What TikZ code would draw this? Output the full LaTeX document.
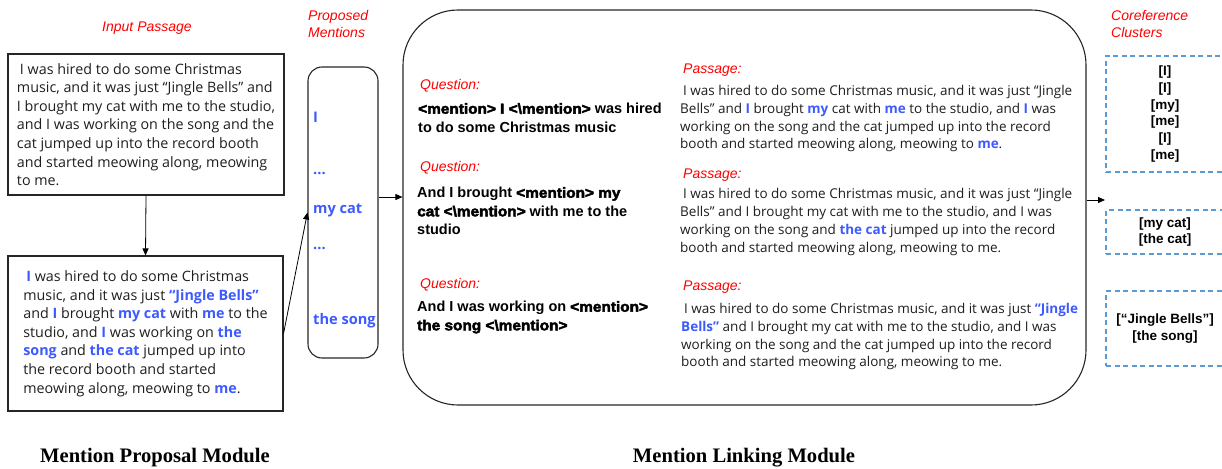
\documentclass[tikz,border=0pt]{standalone}
\usepackage{fontspec}
\setmainfont{Open Sans}
\newfontfamily\arial{Liberation Sans}
\newfontfamily\arialblk{Liberation Sans}[BoldFeatures={FakeBold=3,FakeStretch=1.06}]
\newfontfamily\timesf{Liberation Serif}
\usetikzlibrary{arrows.meta}
\definecolor{mblue}{RGB}{61,90,254}
\definecolor{cblue}{RGB}{91,155,213}
\definecolor{tgray}{RGB}{30,30,30}
\newcommand{\hl}[1]{\textcolor{mblue}{\bfseries #1}}
\newcommand{\mk}[1]{{\arialblk\bfseries #1}}
\newcommand{\bs}{\textbackslash}
\begin{document}
\begin{tikzpicture}[x=1pt,y=-1pt,
  title/.style={text=red, font=\arial\itshape\fontsize{14}{17}\selectfont, inner sep=0, align=left},
  box/.style={draw=black!85, line width=1.1pt, inner sep=0, align=left, text=tgray,
    font=\fontsize{14.3}{18.6}\selectfont},
  rbox/.style={draw=black!85, line width=1.1pt, inner sep=0},
  arr/.style={-{Triangle[length=7pt,width=6pt]}, line width=0.8pt},
  cbox/.style={draw=cblue, dash pattern=on 5pt off 3.5pt, line width=1.1pt, inner sep=0,
    align=center, font=\arial\bfseries\fontsize{13.5}{16.8}\selectfont},
  pmtext/.style={anchor=west, inner sep=0, text=mblue, font=\bfseries\fontsize{14.6}{16}\selectfont},
  qlabel/.style={anchor=west, inner sep=0, text=red, font=\arial\itshape\fontsize{14}{17}\selectfont},
  qtext/.style={anchor=north west, inner sep=0, align=left, font=\arial\bfseries\fontsize{14.5}{18.6}\selectfont},
  ptext/.style={anchor=north west, inner sep=0, align=left, text=tgray, font=\fontsize{13.5}{17.8}\selectfont},
  module/.style={inner sep=0, font=\timesf\bfseries\fontsize{20.6}{24}\selectfont}
]
\useasboundingbox (0,0) rectangle (1222,468);

% titles
\node[title] (tin) at (147,28) {Input Passage};
\node[title, anchor=west] (tpm) at (308,23.5) {Proposed\\Mentions};
\node[title, anchor=west] (tcc) at (1111,23.5) {Coreference\\Clusters};

% input passage boxes
\node[box, minimum width=276, minimum height=141] (box1) at (146,124.5)
 {\hspace*{3pt}I was hired to do some Christmas\\
  music, and it was just “Jingle Bells” and\\
  I brought my cat with me to the studio,\\
  and I was working on the song and the\\
  cat jumped up into the record booth\\
  and started meowing along, meowing\\
  to me.};
\node[box, minimum width=275, minimum height=155] (box2) at (145.5,333.5)
 {\hspace*{3pt}\hl{I} was hired to do some Christmas\\
  music, and it was just \hl{“Jingle Bells”}\\
  and \hl{I} brought \hl{my cat} with \hl{me} to the\\
  studio, and \hl{I} was working on \hl{the}\\
  \hl{song} and \hl{the cat} jumped up into\\
  the record booth and started\\
  meowing along, meowing to \hl{me}.};

% proposed mentions
\node[rbox, rounded corners=14pt, minimum width=70, minimum height=291] (pm) at (343,212.5) {};
\node[pmtext] (m1) at (313,117) {I};
\node[pmtext] (m2) at (313,173) {...};
\node[pmtext] (m3) at (313,210) {my cat};
\node[pmtext] (m4) at (313,248) {...};
\node[pmtext] (m5) at (313,321) {the song};

% big linking box
\node[rbox, rounded corners=55pt, minimum width=683, minimum height=395] (big) at (744.5,207.5) {};

\node[qlabel] (q1l) at (420,86) {Question:};
\node[qtext] (q1) at (418,103) {\mk{<mention> I <\bs mention>} was hired\\to do some Christmas music};
\node[qlabel] (q2l) at (420,168) {Question:};
\node[qtext] (q2) at (417,187) {And I brought \mk{<mention> my}\\\mk{cat <\bs mention>} with me to the\\studio};
\node[qlabel] (q3l) at (420,285) {Question:};
\node[qtext] (q3) at (417,301) {And I was working on \mk{<mention>}\\\mk{the song <\bs mention>}};

\node[qlabel] (p1l) at (683,70) {Passage:};
\node[ptext] (p1) at (680,85) {\hspace*{3pt}I was hired to do some Christmas music, and it was just “Jingle\\
 Bells” and \hl{I} brought \hl{my} cat with \hl{me} to the studio, and \hl{I} was\\
 working on the song and the cat jumped up into the record\\
 booth and started meowing along, meowing to \hl{me}.};
\node[qlabel] (p2l) at (683,175) {Passage:};
\node[ptext] (p2) at (680,188.5) {\hspace*{3pt}I was hired to do some Christmas music, and it was just “Jingle\\
 Bells” and I brought my cat with me to the studio, and I was\\
 working on the song and \hl{the cat} jumped up into the record\\
 booth and started meowing along, meowing to me.};
\node[qlabel] (p3l) at (683,287) {Passage:};
\node[ptext] (p3) at (681,303) {\hspace*{3pt}I was hired to do some Christmas music, and it was just \hl{“Jingle}\\
 \hl{Bells”} and I brought my cat with me to the studio, and I was\\
 working on the song and the cat jumped up into the record\\
 booth and started meowing along, meowing to me.};

% coreference clusters
\node[cbox, minimum width=118, minimum height=116] (c1) at (1165,114) {{[I]}\\{[I]}\\{[my]}\\{[me]}\\{[I]}\\{[me]}};
\node[cbox, minimum width=118, minimum height=44] (c2) at (1165,232) {{[my cat]}\\{[the cat]}};
\node[cbox, minimum width=118, minimum height=75] (c3) at (1165,328.5) {{[“Jingle Bells”]}\\{[the song]}};

% module labels
\node[module] (mod1) at (155,458) {Mention Proposal Module};
\node[module] (mod2) at (744,458) {Mention Linking Module};

% connectors
\coordinate (y197) at (0,197);
\coordinate (cin) at (1105,200);
\draw[arr] (box1.south) -- (box2.north);
\draw[arr] (box2.east) -- (pm.west);
\draw[arr] (pm.east |- y197) -- (big.west |- y197);
\draw[arr] (big.east |- cin) -- (cin);
\end{tikzpicture}
\end{document}
